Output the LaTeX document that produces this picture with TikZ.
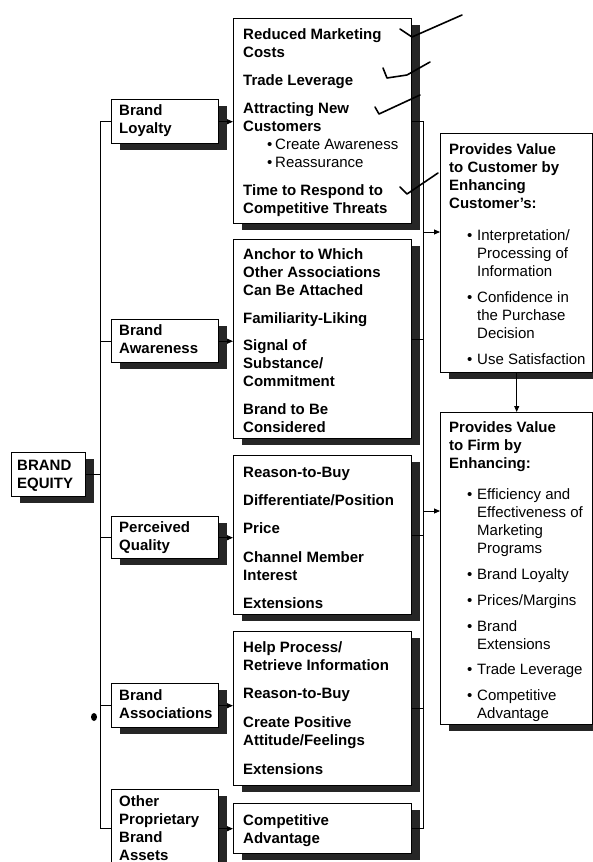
\documentclass[tikz,border=0pt]{standalone}
\usepackage{fontspec}
\setmainfont{Liberation Sans}
\usetikzlibrary{arrows.meta,shadows}
\newcommand\tb[1]{\parbox[t]{200pt}{\fontsize{15}{18}\selectfont\bfseries\raggedright #1}}
\newcommand\mbul{\hspace*{24pt}\makebox[8pt][l]{\textbullet}}
\newcommand\rbul{\hspace*{18pt}\makebox[10pt][l]{\textbullet}}
\newcommand\rind{\hspace*{28pt}}
\begin{document}
\begin{tikzpicture}[x=1pt,y=-1pt,
  box/.style={draw, line width=1.4pt, fill=white, anchor=north west, inner sep=0pt,
     drop shadow={shadow xshift=8pt, shadow yshift=-6pt, fill=black!85, opacity=1}},
  txt/.style={anchor=base west, inner sep=0pt},
  conn/.style={line width=0.9pt},
  arr/.style={line width=0.9pt, -{Triangle[length=6pt,width=5pt]}},
  penmark/.style={line width=1.6pt, line cap=round, line join=round}]
\useasboundingbox (0,0) rectangle (593,862);
\clip (0,0) rectangle (593,862);
% left column
\node[box, minimum width=74pt, minimum height=44pt] (be) at (11,452) {};
\node[box, minimum width=107pt, minimum height=44pt] (bl) at (111,99) {};
\node[box, minimum width=107pt, minimum height=43pt] (ba) at (111,319) {};
\node[box, minimum width=107pt, minimum height=42pt] (pq) at (111,516) {};
\node[box, minimum width=107pt, minimum height=44pt] (bas) at (111,683) {};
\node[box, minimum width=107pt, minimum height=78pt] (op) at (111,789) {};
% middle column
\node[box, minimum width=178pt, minimum height=205pt] (m1) at (233,18) {};
\node[box, minimum width=178pt, minimum height=199pt] (m2) at (233,239) {};
\node[box, minimum width=178pt, minimum height=159pt] (m3) at (233,455) {};
\node[box, minimum width=178pt, minimum height=154pt] (m4) at (233,631) {};
\node[box, minimum width=178pt, minimum height=50pt] (m5) at (233,803) {};
% right column
\node[box, minimum width=152pt, minimum height=239pt] (r1) at (440,133) {};
\node[box, minimum width=152pt, minimum height=312pt] (r2) at (440,412) {};
% texts
\node[txt] (tbe) at (17,470.5) {\tb{BRAND\\EQUITY}};
\node[txt] (tbl) at (119,115.5) {\tb{Brand\\Loyalty}};
\node[txt] (tba) at (119,335.5) {\tb{Brand\\Awareness}};
\node[txt] (tpq) at (119,532.5) {\tb{Perceived\\Quality}};
\node[txt] (tbas) at (119,700.5) {\tb{Brand\\Associations}};
\node[txt] (top) at (119,806.5) {\tb{Other\\Proprietary\\Brand\\Assets}};
\node[txt] (tm1) at (243,39.5) {\tb{Reduced Marketing\\Costs\\[10pt]Trade Leverage\\[10pt]Attracting New\\Customers\\
 \mdseries\mbul Create Awareness\\\mbul Reassurance\\[10pt]\bfseries Time to Respond to\\Competitive Threats}};
\node[txt] (tm2) at (243,259.5) {\tb{Anchor to Which\\Other Associations\\Can Be Attached\\[10pt]Familiarity-Liking\\[9pt]Signal of\\Substance/\\Commitment\\[10pt]Brand to Be\\Considered}};
\node[txt] (tm3) at (243,477.5) {\tb{Reason-to-Buy\\[10pt]Differentiate/Position\\[10pt]Price\\[11pt]Channel Member\\Interest\\[10pt]Extensions}};
\node[txt] (tm4) at (243,652.5) {\tb{Help Process/\\Retrieve Information\\[10pt]Reason-to-Buy\\[11pt]Create Positive\\Attitude/Feelings\\[11pt]Extensions}};
\node[txt] (tm5) at (243,825.5) {\tb{Competitive\\Advantage}};
\node[txt] (tr1) at (449,154.5) {\tb{Provides Value\\to Customer by\\Enhancing\\Customer's:\\[14pt]\mdseries
 \rbul Interpretation/\\\rind Processing of\\\rind Information\\[8pt]
 \rbul Confidence in\\\rind the Purchase\\\rind Decision\\[8pt]
 \rbul Use Satisfaction}};
\node[txt] (tr2) at (449,432.5) {\tb{Provides Value\\to Firm by\\Enhancing:\\[13pt]\mdseries
 \rbul Efficiency and\\\rind Effectiveness of\\\rind Marketing\\\rind Programs\\[8pt]
 \rbul Brand Loyalty\\[8pt]
 \rbul Prices/Margins\\[8pt]
 \rbul Brand\\\rind Extensions\\[7pt]
 \rbul Trade Leverage\\[8pt]
 \rbul Competitive\\\rind Advantage}};
% trunk on the left
\coordinate (trunk) at (100,0);
\draw[conn] (be.east) -- (be.east -| trunk);
\draw[conn] (bl.west -| trunk) -- (op.west -| trunk);
\foreach \n in {bl,ba,pq,bas,op} \draw[conn] (\n.west -| trunk) -- (\n.west);
% arrows left to middle
\draw[arr] (bl.east) -- (bl.east -| m1.west);
\draw[arr] (ba.east) -- (ba.east -| m2.west);
\draw[arr] (pq.east) -- (pq.east -| m3.west);
\draw[arr] (bas.east) -- (bas.east -| m4.west);
\draw[arr] (op.east) -- (op.east -| m5.west);
% collector on the right
\coordinate (col) at (423,0);
\foreach \n in {m1,m2,m3,m4,m5} \draw[conn] (\n.east) -- (\n.east -| col);
\draw[conn] (m1.east -| col) -- (m5.east -| col);
\coordinate (j1) at (423,232);
\coordinate (j2) at (423,511);
\draw[arr] (j1) -- (j1 -| r1.west);
\draw[arr] (j2) -- (j2 -| r2.west);
\draw[arr] (r1.south) -- (r2.north);
% hand-made pen marks
\draw[penmark] (400,29) -- (412,37) -- (462,15);
\draw[penmark] (383,68) -- (387,78) -- (407,75) -- (430,62);
\draw[penmark] (375,107) -- (379,114) -- (420,95);
\draw[penmark] (400,187) -- (407,194) -- (438,173);
\fill (94,717) ellipse [x radius=3pt, y radius=4pt];
\end{tikzpicture}
\end{document}
